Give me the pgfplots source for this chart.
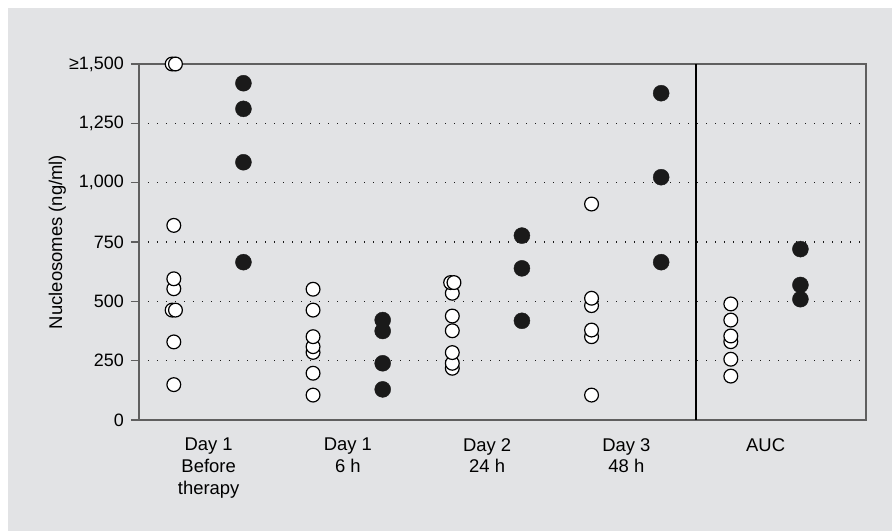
\documentclass[border=0pt]{standalone}
\usepackage{fontspec}
\setmainfont{Liberation Sans}
\usepackage{pgfplots}
\pgfplotsset{compat=1.18}
\definecolor{bggray}{HTML}{E2E3E5}
\definecolor{framegray}{HTML}{5F5F5F}
\definecolor{dotcol}{HTML}{1A1A1A}
\begin{document}
\begin{tikzpicture}
% page and grey panel (1bp = 1 px of the reference)
\fill[white] (-139bp,-111bp) rectangle (753bp,420bp);
\fill[bggray] (-131bp,-111bp) rectangle (753bp,412bp);
\begin{axis}[
  at={(0,0)}, anchor=south west,
  scale only axis, width=727bp, height=356bp,
  xmin=-0.5, xmax=4.721, ymin=0, ymax=1500,
  clip=false,
  axis line style={framegray, line width=1.1bp},
  xtick={0,...,4},
  xticklabels={{Day 1\\Before\\therapy},{Day 1\\6 h},{Day 2\\24 h},{Day 3\\48 h},AUC},
  x tick style={draw=none},
  xticklabel style={align=center, font=\fontsize{18.5}{22}\selectfont,
    anchor=north, inner sep=0pt, yshift=-10bp},
  ytick={0,250,500,750,1000,1250,1500},
  yticklabels={0,250,500,750,{1,000},{1,250},{≥1,500}},
  ytick pos=left, tick align=outside, major tick length=8bp,
  y tick style={framegray, line width=1.1bp},
  yticklabel style={font=\fontsize{18}{20}\selectfont, anchor=east, inner sep=0pt, xshift=-7bp},
  ymajorgrids,
  grid style={dotcol, line width=1.1bp, dash pattern=on 1.1bp off 7.9bp},
  ylabel={Nucleosomes (ng/ml)},
  ylabel style={at={(axis description cs:-0.1059,0.5)}, anchor=base,
    font=\fontsize{18.5}{22}\selectfont},
]
% controls (open circles)
\addplot[only marks, mark=*, mark size=6.9bp,
  mark options={fill=white, draw=black, line width=1.2bp}] table {
x y
-0.25 149
-0.25 329
-0.262 463
-0.238 463
-0.25 553
-0.25 595
-0.25 820
-0.262 1500
-0.238 1500
0.75 105
0.75 197
0.75 285
0.75 309
0.75 351
0.75 463
0.75 551
1.75 218
1.75 239
1.75 284
1.75 376
1.75 438
1.75 534
1.738 579
1.762 579
2.75 105
2.75 351
2.75 379
2.75 482
2.75 513
2.75 910
3.75 185
3.75 256
3.75 330
3.75 354
3.75 421
3.75 489
};
% patients (filled circles)
\addplot[only marks, mark=*, mark size=8bp,
  mark options={fill=dotcol, draw=dotcol}] table {
x y
0.25 665
0.25 1086
0.25 1311
0.25 1419
1.25 129
1.25 239
1.25 375
1.25 421
2.25 418
2.25 639
2.25 777
3.25 665
3.25 1023
3.25 1377
4.25 509
4.25 569
4.25 720
};
\draw[black, line width=2bp] (axis cs:3.5,0) -- (axis cs:3.5,1500);
\end{axis}
\pgfresetboundingbox
\path (-139bp,-111bp) rectangle (753bp,420bp);
\end{tikzpicture}
\end{document}
